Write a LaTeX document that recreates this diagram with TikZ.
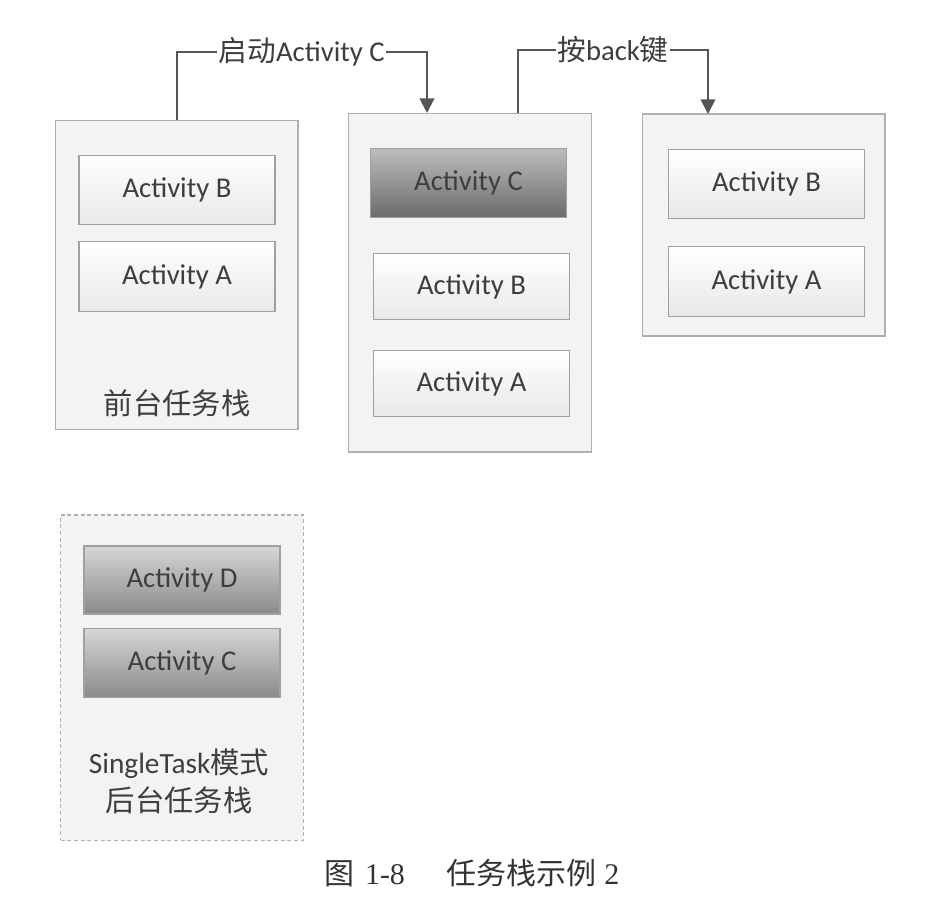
\documentclass[tikz,border=0pt]{standalone}
\usepackage{fontspec}
\setmainfont{Carlito}
\newfontfamily\cjk{Noto Sans CJK SC}
\newfontfamily\capfont{Liberation Serif}
\usetikzlibrary{arrows.meta}

\definecolor{stackline}{RGB}{175,175,175}
\definecolor{stackfill}{RGB}{243,243,243}
\definecolor{boxline}{RGB}{160,160,160}
\definecolor{txtgray}{RGB}{62,62,62}
\definecolor{flowgray}{RGB}{85,85,85}

\tikzset{
  stack/.style={draw=stackline, fill=stackfill, line width=1pt, inner sep=0pt, minimum width=182pt},
  bgstack/.style={stack, densely dashed},
  lightbox/.style={draw=boxline, line width=0.9pt, inner sep=0pt, minimum width=147pt, minimum height=52pt,
    top color=white, bottom color=black!9, text=txtgray, font=\fontsize{21.5}{26}\selectfont},
  darkbox/.style={lightbox, top color=black!26, bottom color=black!58},
  midbox/.style={lightbox, top color=black!16, bottom color=black!46},
  stacklbl/.style={text=txtgray, font=\fontsize{22}{28.5}\selectfont, align=center},
  flow/.style={draw=flowgray, line width=1.5pt, -{Triangle[length=11pt,width=11pt]}},
  flowlbl/.style={fill=white, inner sep=1pt, text=txtgray, font=\fontsize{21.5}{26}\selectfont}
}

\begin{document}
\begin{tikzpicture}[x=0.75pt,y=0.75pt,yscale=-1,xscale=1]
\path[use as bounding box] (0,0) rectangle (946,922);

%Shape: Rectangle [foreground stack]
\node[stack, minimum height=232pt] (s1) at (176.5,275) {};
\node[lightbox] (s1b) at (177,190) {Activity B};
\node[lightbox] (s1a) at (177,276.5) {Activity A};
% Text Node
\node[stacklbl] (s1lbl) at (177,403) {\cjk 前台任务栈};

%Shape: Rectangle [after start C]
\node[stack, minimum height=254pt] (s2) at (470,282.5) {};
\node[darkbox] (s2c) at (468.5,183) {Activity C};
\node[lightbox, minimum height=50pt] (s2b) at (471.5,286.5) {Activity B};
\node[lightbox, minimum height=50pt] (s2a) at (471.5,383.5) {Activity A};

%Shape: Rectangle [after back]
\node[stack, minimum height=166.5pt] (s3) at (763.5,225) {};
\node[lightbox] (s3b) at (766.5,184) {Activity B};
\node[lightbox] (s3a) at (766.5,281.5) {Activity A};

%Shape: Rectangle [background stack, dashed]
\node[bgstack, minimum height=244pt] (s4) at (182,677.5) {};
\node[midbox, minimum height=51pt] (s4d) at (182,580) {Activity D};
\node[midbox] (s4c) at (182,663) {Activity C};
% Text Node
\node[stacklbl] (s4lbl) at (179,781) {SingleTask{\cjk 模式}\\{\cjk 后台任务栈}};

%Straight Lines [flow arrows]
\coordinate (top1) at (427,52);
\coordinate (in2) at (427,113);
\coordinate (out2) at (518,113);
\coordinate (top2) at (708,50);
\coordinate (in3) at (708,114);
\draw[flow] (s1.north) |- node[pos=0.75, flowlbl] {{\cjk 启动}Activity C} (top1) -- (in2);
\draw[flow] (out2) |- node[pos=0.75, flowlbl] {{\cjk 按}back{\cjk 键}} (top2) -- (in3);

% Text Node [caption]
\node[text=black!80, font=\fontsize{22.5}{26}\selectfont] (cap) at (472,873)
  {{\cjk 图}\hspace{0.35em}\capfont 1-8\hspace{1.4em}{\cjk 任务栈示例}\hspace{0.25em}2};

\end{tikzpicture}
\end{document}
